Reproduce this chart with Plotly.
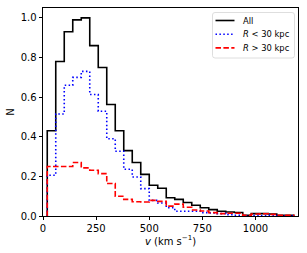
import plotly.graph_objects as go

# Histogram bin edges (km/s) and normalised counts
bin_edges = [20 + 40 * i for i in range(30)]  # 20 ... 1180
n_all = [0.43, 0.78, 0.93, 0.99, 1.00, 0.86, 0.75, 0.563, 0.43, 0.33,
         0.27, 0.21, 0.155, 0.14, 0.092, 0.084, 0.068, 0.054, 0.042, 0.032,
         0.024, 0.020, 0.018, 0.004, 0.012, 0.012, 0.010, 0.004, 0.003]
n_inner = [0.206, 0.515, 0.66, 0.70, 0.73, 0.613, 0.529, 0.39, 0.327, 0.236,
           0.197, 0.138, 0.079, 0.066, 0.042, 0.024, 0.024, 0.024, 0.017, 0.015,
           0.012, 0.006, 0.004, 0.001, 0.002, 0.001, 0.002, 0.0, 0.0]
n_outer = [0.25, 0.25, 0.25, 0.27, 0.243, 0.231, 0.214, 0.164, 0.10, 0.084,
           0.072, 0.071, 0.079, 0.074, 0.05, 0.06, 0.044, 0.030, 0.025, 0.017,
           0.012, 0.014, 0.014, 0.003, 0.010, 0.011, 0.008, 0.004, 0.003]

series_names = ["All", "<i>R</i> &lt; 30 kpc", "<i>R</i> &gt; 30 kpc"]
x_ticks = [0, 250, 500, 750, 1000]
y_ticks = [0.0, 0.2, 0.4, 0.6, 0.8, 1.0]

W, H = 307, 253
ML, MR, MT, MB = 43, 9, 8, 37
PW, PH = W - ML - MR, H - MT - MB


def px(x):
    return (x - ML) / PW


def py(y):
    return 1 - (y - MT) / PH


def step_xy(edges, vals):
    xs = [edges[0]] + edges[:len(vals)] + [edges[len(vals)], edges[len(vals)]]
    ys = [0] + list(vals) + [vals[-1], 0]
    return xs, ys


FONT = "DejaVu Sans"
fig = go.Figure()
styles = [("black", "solid"), ("blue", "1.5px,2.4px"), ("red", "5.5px,2.4px")]
for vals, name, (col, dash) in zip([n_all, n_inner, n_outer], series_names, styles):
    xs, ys = step_xy(bin_edges, vals)
    fig.add_trace(go.Scatter(x=xs, y=ys, mode="lines", name=name, showlegend=False,
                             hoverinfo="skip",
                             line=dict(color=col, width=1.6, dash=dash, shape="hv")))

# manual legend (matplotlib style, rounded box)
bx0, bx1, by0, by1, r = 212.5, 294.5, 12.5, 58, 2.5
box_path = (f"M {px(bx0 + r)} {py(by0)} L {px(bx1 - r)} {py(by0)} "
            f"Q {px(bx1)} {py(by0)} {px(bx1)} {py(by0 + r)} "
            f"L {px(bx1)} {py(by1 - r)} Q {px(bx1)} {py(by1)} {px(bx1 - r)} {py(by1)} "
            f"L {px(bx0 + r)} {py(by1)} Q {px(bx0)} {py(by1)} {px(bx0)} {py(by1 - r)} "
            f"L {px(bx0)} {py(by0 + r)} Q {px(bx0)} {py(by0)} {px(bx0 + r)} {py(by0)} Z")
shapes = [dict(type="path", xref="paper", yref="paper", path=box_path,
               line=dict(color="#d5d5d5", width=0.8), fillcolor="rgba(255,255,255,0.8)",
               layer="above")]
annotations = []
for i, (name, (col, dash)) in enumerate(zip(series_names, styles)):
    yy = 20.5 + 13.7 * i
    shapes.append(dict(type="line", xref="paper", yref="paper",
                       x0=px(215.5), x1=px(234.5), y0=py(yy), y1=py(yy),
                       line=dict(color=col, width=1.6, dash=dash), layer="above"))
    annotations.append(dict(text=name, xref="paper", yref="paper", x=px(241.2), y=py(yy),
                            xanchor="left", yanchor="middle", showarrow=False,
                            font=dict(family=FONT, size=8.4, color="black")))

axis_common = dict(showline=True, linecolor="black", linewidth=0.8, mirror=True,
                   ticks="outside", ticklen=3.5, tickwidth=0.8, tickcolor="black",
                   showgrid=False, zeroline=False, automargin=False,
                   tickfont=dict(family=FONT, size=10, color="black"))

fig.update_layout(
    width=W, height=H,
    margin=dict(l=ML, r=MR, t=MT, b=MB, autoexpand=False),
    plot_bgcolor="white", paper_bgcolor="white",
    font=dict(family=FONT, size=10, color="black"),
    xaxis=dict(range=[0, 1200], tickvals=x_ticks, ticktext=[str(v) for v in x_ticks],
               title=dict(text="<i>v</i> (km s<sup>−1</sup>)", standoff=2,
                          font=dict(family=FONT, size=10, color="black")),
               **axis_common),
    yaxis=dict(range=[0, 1.05], tickvals=y_ticks, ticktext=[f"{v:.1f}" for v in y_ticks],
               title=dict(text="N", standoff=4,
                          font=dict(family=FONT, size=10, color="black")),
               **axis_common),
    shapes=shapes,
    annotations=annotations,
    showlegend=False,
    hovermode=False,
)

fig.write_html("out.html", config={"displayModeBar": False},
               post_script="document.body.style.margin='0';document.body.style.overflow='hidden';")
